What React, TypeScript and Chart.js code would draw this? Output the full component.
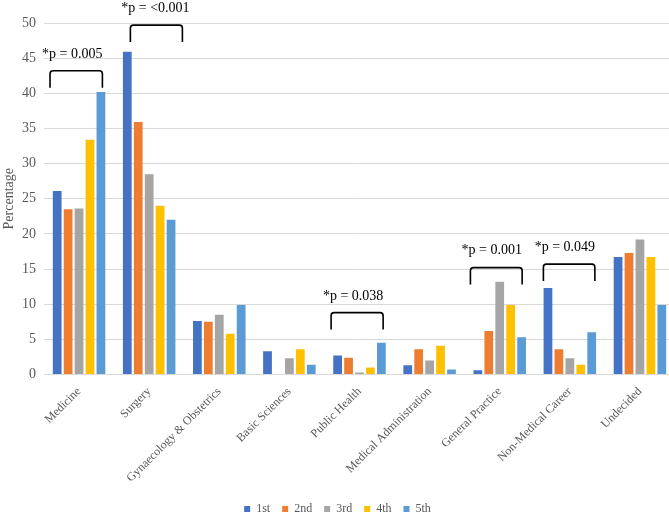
import React, { useEffect, useRef } from 'react';
import { Chart, registerables } from 'chart.js';

Chart.register(...registerables);

const categories = [
  'Medicine',
  'Surgery',
  'Gynaecology & Obstetrics',
  'Basic Sciences',
  'Public Health',
  'Medical Administration',
  'General Practice',
  'Non-Medical Career',
  'Undecided',
];

const seriesNames = ['1st', '2nd', '3rd', '4th', '5th'];
const year1 = [26.1, 45.9, 7.6, 3.3, 2.7, 1.3, 0.6, 12.3, 16.7];
const year2 = [23.5, 35.9, 7.5, 0, 2.4, 3.6, 6.2, 3.6, 17.3];
const year3 = [23.6, 28.5, 8.5, 2.3, 0.3, 2.0, 13.2, 2.3, 19.2];
const year4 = [33.4, 24.0, 5.8, 3.6, 1.0, 4.1, 9.9, 1.4, 16.7];
const year5 = [40.2, 22.0, 9.9, 1.4, 4.5, 0.7, 5.3, 6.0, 9.9];
const seriesColors = ['#4472C4', '#ED7D31', '#A5A5A5', '#FFC000', '#5B9BD5'];

// significance annotations (category index, label, bracket top / foot in % units)
const bracketCats = [0, 1, 4, 6, 7];
const bracketLabels = ['*p = 0.005', '*p = <0.001', '*p = 0.038', '*p = 0.001', '*p = 0.049'];
const bracketTops = [43.2, 49.7, 8.8, 15.2, 15.7];
const bracketFeet = [40.8, 47.3, 6.4, 12.8, 13.3];
const bracketFrom = [-0.414, -0.268, -0.405, -0.418, -0.377];
const bracketTo = [0.333, 0.474, 0.337, 0.32, 0.357];
const labelOffsets = [-0.097, 0.09, -0.091, -0.113, -0.071];
const labelValues = [45.55, 52.1, 11.1, 17.6, 18.05];

const FONT = '"Liberation Serif", "Times New Roman", serif';

const bracketPlugin = {
  id: 'bracketPlugin',
  afterDraw(chart: any) {
    const { ctx } = chart;
    const xs = chart.scales.x;
    const ys = chart.scales.y;
    ctx.save();
    ctx.strokeStyle = '#000';
    ctx.lineWidth = 1.6;
    ctx.lineJoin = 'round';
    ctx.lineCap = 'butt';
    bracketCats.forEach((c, i) => {
      const x0 = xs.getPixelForValue(c + bracketFrom[i]);
      const x1 = xs.getPixelForValue(c + bracketTo[i]);
      const yt = ys.getPixelForValue(bracketTops[i]);
      const yf = ys.getPixelForValue(bracketFeet[i]);
      const r = 3;
      ctx.beginPath();
      ctx.moveTo(x0, yf);
      ctx.arcTo(x0, yt, x0 + r, yt, r);
      ctx.arcTo(x1, yt, x1, yt + r, r);
      ctx.lineTo(x1, yf);
      ctx.stroke();
      ctx.fillStyle = '#000';
      ctx.font = '14px ' + FONT;
      ctx.textAlign = 'center';
      ctx.textBaseline = 'middle';
      ctx.fillText(
        bracketLabels[i],
        xs.getPixelForValue(c + labelOffsets[i]),
        ys.getPixelForValue(labelValues[i])
      );
    });
    ctx.restore();
  },
};

export default function App() {
  const ref = useRef<HTMLCanvasElement | null>(null);

  useEffect(() => {
    if (!ref.current) return;
    Chart.defaults.font.family = FONT;
    const data = [year1, year2, year3, year4, year5];
    const chart = new Chart(ref.current, {
      type: 'bar',
      data: {
        labels: categories,
        datasets: seriesNames.map((name, i) => ({
          label: name,
          data: data[i],
          backgroundColor: seriesColors[i],
          borderWidth: 0,
          barPercentage: 0.8,
          categoryPercentage: 0.78,
        })),
      },
      options: {
        responsive: false,
        animation: false,
        layout: { padding: { top: 23, right: 1, left: 0, bottom: 0 } },
        plugins: {
          tooltip: { enabled: false },
          legend: {
            position: 'bottom',
            labels: {
              boxWidth: 6,
              boxHeight: 6,
              padding: 12,
              color: '#595959',
              font: { size: 12, family: FONT },
            },
          },
        },
        scales: {
          x: {
            grid: { display: false },
            border: { display: false },
            ticks: {
              autoSkip: false,
              minRotation: 45,
              maxRotation: 45,
              padding: 2,
              color: '#595959',
              font: { size: 12, family: FONT },
            },
            afterFit(s: any) {
              s.height = 116.5;
            },
          },
          y: {
            min: 0,
            max: 50,
            border: { display: false },
            grid: { color: '#d9d9d9', drawTicks: false, lineWidth: 1 },
            ticks: {
              stepSize: 5,
              padding: 8,
              color: '#595959',
              font: { size: 14, family: FONT },
            },
            title: {
              display: true,
              text: 'Percentage',
              color: '#595959',
              font: { size: 14, family: FONT },
              padding: { top: 1, bottom: 0 },
            },
            afterFit(s: any) {
              s.width = 44;
            },
          },
        },
      },
      plugins: [bracketPlugin],
    });
    return () => chart.destroy();
  }, []);

  return (
    <div
      style={{
        position: 'absolute',
        left: 0,
        top: 0,
        width: 669,
        height: 518,
        overflow: 'hidden',
        background: '#fff',
      }}
    >
      <canvas ref={ref} width={676} height={525} style={{ display: 'block' }} />
    </div>
  );
}
